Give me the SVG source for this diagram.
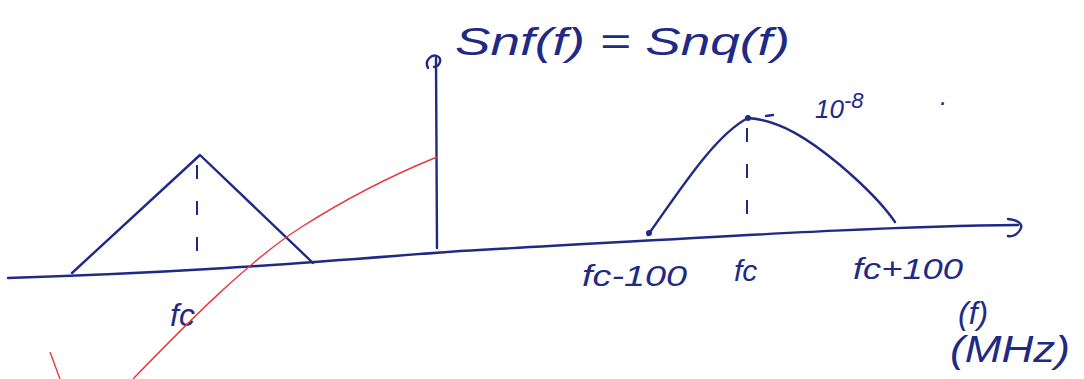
<svg xmlns="http://www.w3.org/2000/svg" width="1084" height="379" viewBox="0 0 1084 379">
<style>
.ink{fill:none;stroke:#1f2a86;stroke-width:2.4;stroke-linecap:round;stroke-linejoin:round}
.dash{fill:none;stroke:#1f2a86;stroke-width:2;stroke-dasharray:14 22}
.red{fill:none;stroke:#e8383d;stroke-width:1.4}
.t{font-family:"Liberation Sans",sans-serif;fill:#1f2a86;font-style:italic}
</style>
<rect width="1084" height="379" fill="#ffffff"/>
<g id="axes">
<path class="ink" d="M8 278 C200 272 300 263 460 251 C700 238 880 226 1018 225"/>
<path class="ink" d="M1008 219 C1018 220 1024 224 1020 230 C1017 235 1012 237 1008 236"/>
<path class="ink" d="M437 248 L436 58"/>
<path class="ink" d="M428 68 C424 60 432 54 437 56 C442 58 441 66 434 67"/>
</g>
<g id="left-spectrum">
<path class="ink" d="M72 273 L200 155 L313 263"/>
<path class="dash" d="M197 165 L197 262"/>
<text class="t" x="170" y="326" font-size="32">fc</text>
</g>
<g id="right-spectrum">
<path class="ink" d="M648 235 C680 190 715 135 748 118 C780 120 810 140 840 165 C860 182 880 200 895 222"/>
<circle cx="649" cy="233" r="3" fill="#1f2a86"/>
<circle cx="748" cy="118" r="3" fill="#1f2a86"/>
<path class="dash" d="M747 128 L747 222"/>
<path class="ink" d="M766 116 L773 115"/>
<text class="t" x="815" y="118" font-size="26">10<tspan dy="-10" font-size="22">-8</tspan></text>
<text class="t" x="940" y="105" font-size="26">.</text>
</g>
<g id="labels">
<text class="t" x="455" y="55" font-size="38" textLength="335" lengthAdjust="spacingAndGlyphs">Snf(f) = Snq(f)</text>
<text class="t" x="582" y="286" font-size="30" textLength="105" lengthAdjust="spacingAndGlyphs">fc-100</text>
<text class="t" x="734" y="281" font-size="30">fc</text>
<text class="t" x="853" y="279" font-size="30" textLength="110" lengthAdjust="spacingAndGlyphs">fc+100</text>
<text class="t" x="958" y="324" font-size="32">(f)</text>
<text class="t" x="950" y="362" font-size="36" textLength="120" lengthAdjust="spacingAndGlyphs">(MHz)</text>
</g>
<g id="red-marks">
<path class="red" d="M133 379 C190 320 250 260 300 228 C350 196 400 172 437 157"/>
<path class="red" d="M50 352 L60 379"/>
</g>
</svg>
